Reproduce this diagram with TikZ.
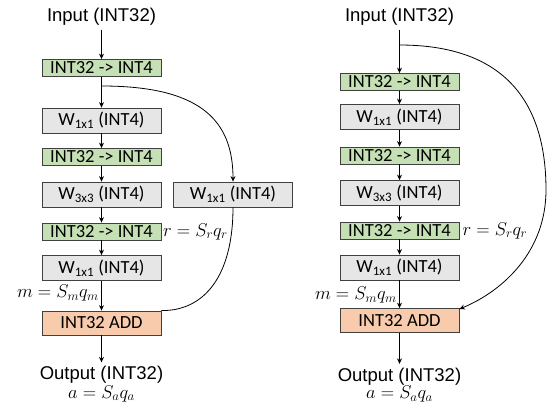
\RequirePackage{fix-cm}
\documentclass[tikz,border=0pt]{standalone}
\usepackage{fontspec}
\setmainfont{Liberation Sans}
\newfontfamily\carl{Carlito}
\usetikzlibrary{arrows.meta}
\definecolor{qgreen}{HTML}{C5E0B4}
\definecolor{qgray}{HTML}{E7E6E6}
\definecolor{qorange}{HTML}{F8CBAD}
\definecolor{qedge}{HTML}{404040}
\begin{document}
\begin{tikzpicture}[x=1pt,y=-1pt,
 box/.style={draw=qedge, line width=0.8pt, minimum width=119pt, inner sep=0pt, font=\carl\fontsize{18.5}{20}\selectfont},
 conv/.style={box, fill=qgreen, minimum height=17pt},
 wbox/.style={box, fill=qgray, minimum height=25pt},
 addbox/.style={box, fill=qorange, minimum height=24pt},
 io/.style={font=\fontsize{18.5}{20}\selectfont, inner sep=0pt, outer sep=4pt},
 lbl/.style={font=\fontsize{18.5}{20}\selectfont, inner sep=0pt},
 arr/.style={-{Stealth[length=5.5pt,width=5pt]}, line width=0.8pt},
 link/.style={line width=0.8pt}]
\useasboundingbox (0,0) rectangle (547,409);

% ---------- left diagram ----------
\node[io] (in1) at (101.5,17) {Input (INT32)};
\node[conv] (c11) at (101.5,68) {INT32 -> INT4};
\node[wbox] (w11) at (101.5,120.5) {W\textsubscript{1x1} (INT4)};
\node[conv] (c12) at (101.5,157) {INT32 -> INT4};
\node[wbox] (w12) at (101.5,194.5) {W\textsubscript{3x3} (INT4)};
\node[conv] (c13) at (101.5,231.5) {INT32 -> INT4};
\node[wbox] (w13) at (101.5,268) {W\textsubscript{1x1} (INT4)};
\node[addbox] (a1) at (101.5,323) {INT32 ADD};
\node[io] (out1) at (101.5,375) {Output (INT32)};
\node[lbl] (sa1) at (101.5,393.5) {$a=S_aq_a$};
\node[wbox] (r1) at (233,194.5) {W\textsubscript{1x1} (INT4)};
\node[lbl, anchor=east] (m1) at (99,293) {$m=S_mq_m$};
\node[lbl, anchor=west] (rl1) at ([xshift=1.5pt]c13.east) {$r=S_rq_r$};
\coordinate (b1) at (101.5,86);

\draw[arr] (in1) -- (c11);
\draw[arr] (c11) -- (w11);
\draw[arr] (w11) -- (c12);
\draw[arr] (c12) -- (w12);
\draw[arr] (w12) -- (c13);
\draw[arr] (c13) -- (w13);
\draw[arr] (w13) -- (a1);
\draw[arr] (a1) -- (out1);
\draw[arr] (b1) .. controls (200,86) and (233,120) .. (r1.north);
\draw[link] (r1.south) .. controls (233,275) and (205,311) .. (a1.north east);

% ---------- right diagram ----------
\node[io] (in2) at (399.5,17) {Input (INT32)};
\node[conv] (c21) at (399.5,82) {INT32 -> INT4};
\node[wbox] (w21) at (399.5,117) {W\textsubscript{1x1} (INT4)};
\node[conv] (c22) at (399.5,155.5) {INT32 -> INT4};
\node[wbox] (w22) at (399.5,193) {W\textsubscript{3x3} (INT4)};
\node[conv] (c23) at (399.5,230.5) {INT32 -> INT4};
\node[wbox] (w23) at (399.5,267.5) {W\textsubscript{1x1} (INT4)};
\node[addbox] (a2) at (399.5,320.5) {INT32 ADD};
\node[io] (out2) at (399.5,376.5) {Output (INT32)};
\node[lbl] (sa2) at (399.5,394) {$a=S_aq_a$};
\node[lbl, anchor=east] (m2) at (397,295) {$m=S_mq_m$};
\node[lbl, anchor=west] (rl2) at ([xshift=3pt]c23.east) {$r=S_rq_r$};
\coordinate (b2) at (399.5,45);
\coordinate (t2) at (546,190);

\draw[arr] (in2) -- (c21);
\draw[arr] (c21) -- (w21);
\draw[arr] (w21) -- (c22);
\draw[arr] (c22) -- (w22);
\draw[arr] (w22) -- (c23);
\draw[arr] (c23) -- (w23);
\draw[arr] (w23) -- (a2);
\draw[arr] (a2) -- (out2);
\draw[arr] (b2) .. controls (520,45) and (546,120) .. (t2)
  .. controls (546,250) and (505,290) .. ([yshift=-1pt]a2.north east);
\end{tikzpicture}
\end{document}
